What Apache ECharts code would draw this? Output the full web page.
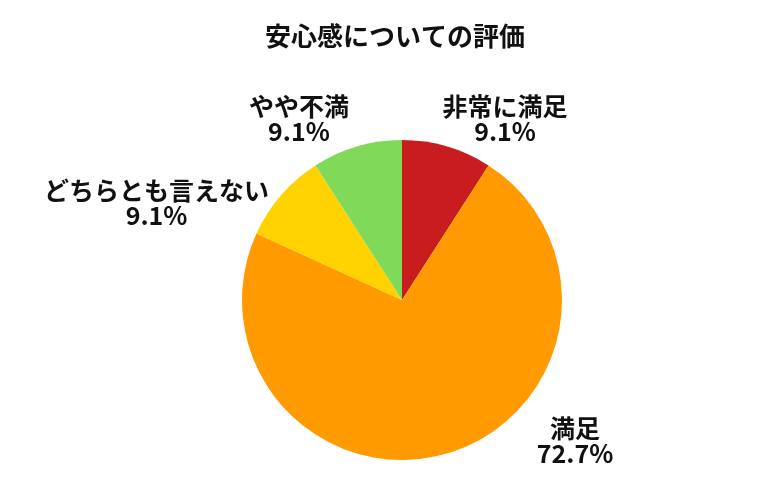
<!DOCTYPE html>
<html><head><meta charset="utf-8">
<script src="https://cdn.jsdelivr.net/npm/echarts@6/dist/echarts.min.js"></script>
<style>html,body{margin:0;padding:0;background:#fff}#c{width:780px;height:500px}</style>
</head><body><div id="c"></div>
<script>
const categories = ['非常に満足', '満足', 'どちらとも言えない', 'やや不満'];
const values = [1, 8, 1, 1];
const colors = ['#c91c1f', '#ff9a00', '#ffd200', '#80d958'];
const labelOffsets = [[53, -27], [123, -13], [-121, 5], [-53, -27]];

const chart = echarts.init(document.getElementById('c'));
chart.setOption({
  animation: false,
  title: {
    text: '安心感についての評価', left: 390, top: 18, textAlign: 'center',
    textStyle: { fontFamily: 'Noto Sans CJK JP', fontWeight: 'bold', fontSize: 26, color: '#111' }
  },
  series: [{
    type: 'pie',
    center: [402, 300],
    radius: 160,
    startAngle: 90,
    clockwise: true,
    percentPrecision: 1,
    itemStyle: { borderWidth: 0 },
    label: {
      show: true, position: 'outside', alignTo: 'none',
      formatter: '{b}\n{d}%',
      fontFamily: 'Noto Sans CJK JP', fontWeight: 'bold', fontSize: 25, lineHeight: 25,
      color: '#111'
    },
    labelLine: { show: false, length: 0, length2: 0 },
    labelLayout: function (p) {
      const o = labelOffsets[p.dataIndex];
      return { dx: o[0], dy: o[1], align: 'center', verticalAlign: 'middle' };
    },
    emphasis: { disabled: true },
    data: categories.map((c, i) => ({ name: c, value: values[i], itemStyle: { color: colors[i] } }))
  }]
});
</script></body></html>
